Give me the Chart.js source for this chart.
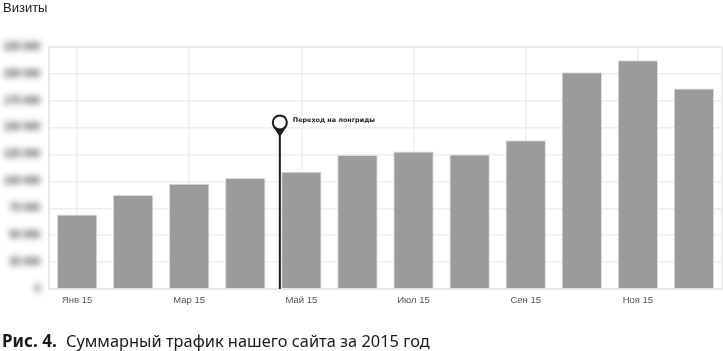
<!DOCTYPE html>
<html><head><meta charset="utf-8">
<script src="https://cdn.jsdelivr.net/npm/chart.js@4"></script>
<style>
html,body{margin:0;padding:0;background:#fff;overflow:hidden}
#wrap{position:relative;width:723px;height:351px}
#caption{position:absolute;left:2px;top:330px;font:16.4px/22px "Noto Sans",sans-serif;color:#1a1a1a;white-space:nowrap}
#caption b{margin-right:5px;font-size:17px}
</style></head><body>
<div id="wrap"><canvas id="c" width="723" height="351"></canvas>
<div id="caption"><b>Рис. 4.</b> Суммарный трафик нашего сайта за 2015 год</div></div>
<script>
const months = ['Янв 15','Фев 15','Мар 15','Апр 15','Май 15','Июн 15','Июл 15','Авг 15','Сен 15','Окт 15','Ноя 15','Дек 15'];
const visits = [69300,87300,97800,103100,108900,124700,127800,125000,138400,201500,212700,186300];
const eventLabel = 'Переход на лонгриды';
const eventPosition = 3.616;

const frame = {id:'frame',beforeDatasetsDraw(ch){
  const a=ch.chartArea,x=ch.ctx;x.save();x.strokeStyle='#e9e9e9';x.lineWidth=1.5;
  x.strokeRect(a.left,a.top,a.right-a.left,a.bottom-a.top);x.restore();
}};
const blurredTicks = {id:'blurredTicks',afterDraw(ch){
  const s=ch.scales.y,x=ch.ctx;x.save();
  x.filter='blur(3.2px)';x.fillStyle='#333';x.font='bold 10px "Liberation Sans"';
  x.textAlign='right';x.textBaseline='middle';
  s.ticks.forEach((t,i)=>{x.fillText(t.label,40,s.getPixelForTick(i));});
  x.restore();
}};
const pin = {id:'pin',afterDatasetsDraw(ch){
  const x=ch.ctx,px=ch.scales.x.getPixelForValue(eventPosition),b=ch.chartArea.bottom;
  const cy=122.5;x.save();
  x.strokeStyle='#1c1c1c';x.lineWidth=2;x.beginPath();x.moveTo(px,cy+10);x.lineTo(px,b);x.stroke();
  x.fillStyle='#1c1c1c';x.beginPath();x.arc(px,cy,8,0,Math.PI*2);x.fill();
  x.beginPath();x.moveTo(px-6.8,cy+4);x.lineTo(px+6.8,cy+4);x.lineTo(px,cy+14.5);x.closePath();x.fill();
  x.fillStyle='#fff';x.beginPath();x.arc(px,cy,6,0,Math.PI*2);x.fill();
  x.fillStyle='#222';x.font='bold 6.4px "DejaVu Sans"';x.textAlign='left';x.textBaseline='middle';
  x.fillText(eventLabel,px+13,120.7);x.restore();
}};

new Chart(document.getElementById('c'),{
  type:'bar',
  data:{labels:months,datasets:[{data:visits,backgroundColor:'#9b9b9b',borderColor:'#dcdcdc',borderWidth:{top:1,left:1,right:1,bottom:0},barPercentage:0.72,categoryPercentage:1}]},
  options:{
    responsive:false,animation:false,
    layout:{padding:{left:3,right:1,top:0,bottom:46}},
    plugins:{legend:{display:false},tooltip:{enabled:false},
      title:{display:true,text:'Визиты',align:'start',color:'#222',font:{family:'"Liberation Sans"',size:13,weight:'normal'},padding:{top:1,bottom:30.4}}},
    scales:{
      x:{afterFit(s){s.height=16;},
        border:{color:'#e4e4e4',width:1.5},
        grid:{offset:false,drawTicks:false,lineWidth:1.5,color:c=>c.index%2===0?'#eeeeee':'rgba(0,0,0,0)'},
        ticks:{autoSkip:false,maxRotation:0,padding:6,color:'#555',font:{family:'"Liberation Sans"',size:9.5},
          callback(v,i){return i%2===0?months[i]:'';}}},
      y:{min:0,max:225000,afterFit(s){s.width=46;},
        border:{color:'#e4e4e4',width:1.5},
        grid:{drawTicks:false,lineWidth:1.5,color:'#eeeeee'},
        ticks:{stepSize:25000,color:'rgba(0,0,0,0)',font:{size:9},callback:v=>String(v).replace(/\B(?=(\d{3})+$)/g,' ')}}
    }
  },
  plugins:[frame,pin,blurredTicks]
});
</script></body></html>
